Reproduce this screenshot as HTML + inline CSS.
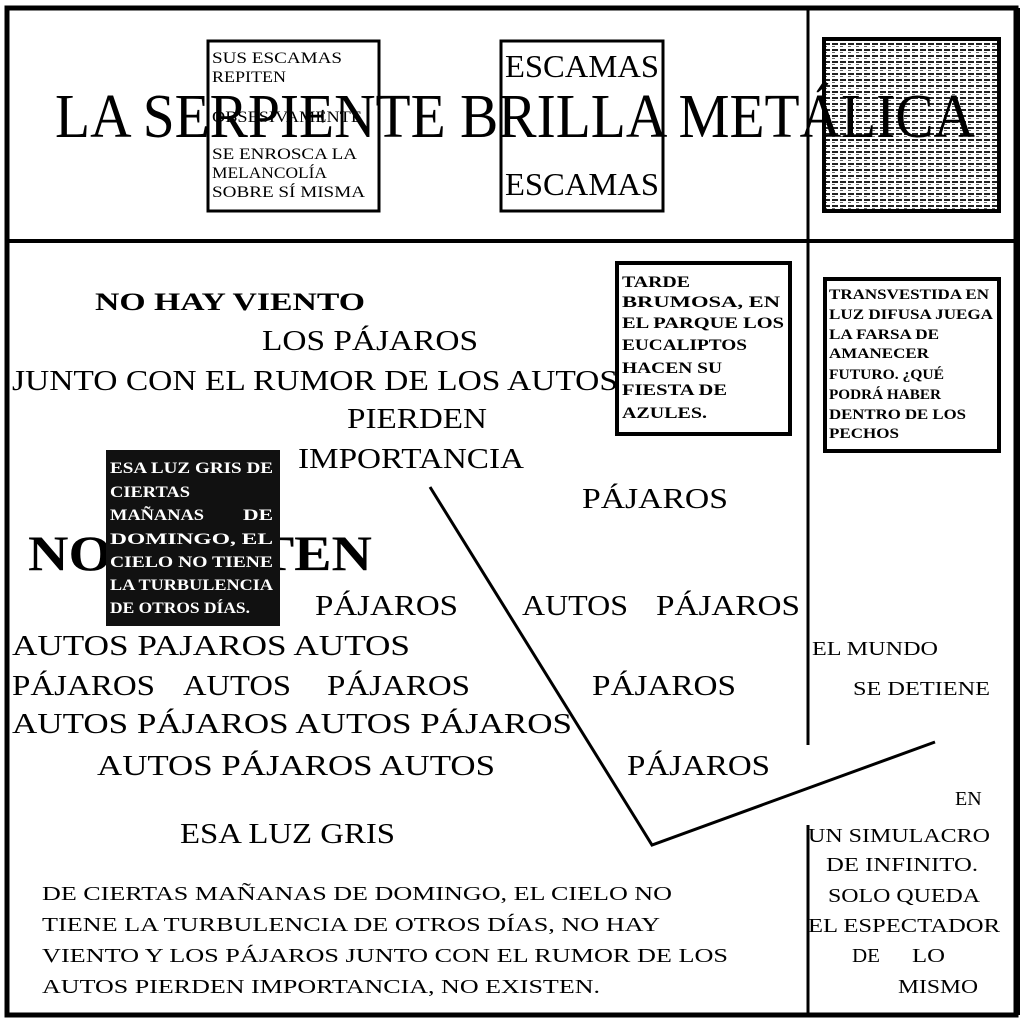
<!DOCTYPE html>
<html><head><meta charset="utf-8"><style>
html,body{margin:0;padding:0;background:#fff;}
svg{display:block;}
text{font-family:"Liberation Serif",serif;fill:#000;}
.b{font-weight:bold;}
</style></head><body>
<svg width="1024" height="1024" viewBox="0 0 1024 1024" xmlns="http://www.w3.org/2000/svg">
<defs>
<pattern id="noise" width="8" height="6" patternUnits="userSpaceOnUse">
<rect width="8" height="6" fill="#fff"/>
<rect x="0" y="1" width="6" height="2" fill="#222"/>
<rect x="0" y="4" width="3" height="1" fill="#666"/>
</pattern>
</defs>
<rect x="7" y="8" width="1009" height="1007" fill="none" stroke="#000" stroke-width="5"/>
<line x1="5" y1="241" x2="1018" y2="241" stroke="#000" stroke-width="4"/>
<line x1="808" y1="8" x2="808" y2="745" stroke="#000" stroke-width="3"/>
<line x1="808" y1="825" x2="808" y2="1015" stroke="#000" stroke-width="3"/>
<line x1="1017" y1="8" x2="1017" y2="1015" stroke="#000" stroke-width="6"/>

<rect x="208" y="41" width="171" height="170" fill="#fff" stroke="#000" stroke-width="3"/>
<g font-size="16">
<text x="212" y="63" textLength="130" lengthAdjust="spacingAndGlyphs">SUS ESCAMAS</text>
<text x="212" y="82" textLength="74" lengthAdjust="spacingAndGlyphs">REPITEN</text>
<text x="212" y="122" textLength="150" lengthAdjust="spacingAndGlyphs">OBSESIVAMENTE</text>
<text x="212" y="159" textLength="145" lengthAdjust="spacingAndGlyphs">SE ENROSCA LA</text>
<text x="212" y="178" textLength="115" lengthAdjust="spacingAndGlyphs">MELANCOLÍA</text>
<text x="212" y="197" textLength="153" lengthAdjust="spacingAndGlyphs">SOBRE SÍ MISMA</text>
</g>
<rect x="501" y="41" width="162" height="170" fill="#fff" stroke="#000" stroke-width="3"/>
<text x="505" y="77" font-size="32" textLength="154" lengthAdjust="spacingAndGlyphs">ESCAMAS</text>
<text x="505" y="195" font-size="32" textLength="154" lengthAdjust="spacingAndGlyphs">ESCAMAS</text>
<rect x="824" y="39" width="175" height="172" fill="url(#noise)" stroke="#000" stroke-width="4"/>

<text x="55" y="137" font-size="62" textLength="920" lengthAdjust="spacingAndGlyphs">LA SERPIENTE BRILLA METÁLICA</text>

<rect x="617" y="263" width="173" height="171" fill="#fff" stroke="#000" stroke-width="4"/>
<g font-size="16">
<text x="622" y="287" class="b" textLength="68" lengthAdjust="spacingAndGlyphs">TARDE</text>
<text x="622" y="307" class="b" textLength="158" lengthAdjust="spacingAndGlyphs">BRUMOSA, EN</text>
<text x="622" y="328" class="b" textLength="162" lengthAdjust="spacingAndGlyphs">EL PARQUE LOS</text>
<text x="622" y="350" class="b" textLength="125" lengthAdjust="spacingAndGlyphs">EUCALIPTOS</text>
<text x="622" y="373" class="b" textLength="100" lengthAdjust="spacingAndGlyphs">HACEN SU</text>
<text x="622" y="395" class="b" textLength="105" lengthAdjust="spacingAndGlyphs">FIESTA DE</text>
<text x="622" y="418" class="b" textLength="85" lengthAdjust="spacingAndGlyphs">AZULES.</text>
</g>
<rect x="825" y="279" width="174" height="172" fill="#fff" stroke="#000" stroke-width="4"/>
<g font-size="15">
<text x="829" y="299" class="b" textLength="160" lengthAdjust="spacingAndGlyphs">TRANSVESTIDA EN</text>
<text x="829" y="319" class="b" textLength="164" lengthAdjust="spacingAndGlyphs">LUZ DIFUSA JUEGA</text>
<text x="829" y="339" class="b" textLength="110" lengthAdjust="spacingAndGlyphs">LA FARSA DE</text>
<text x="829" y="358" class="b" textLength="100" lengthAdjust="spacingAndGlyphs">AMANECER</text>
<text x="829" y="379" class="b" textLength="115" lengthAdjust="spacingAndGlyphs">FUTURO. ¿QUÉ</text>
<text x="829" y="399" class="b" textLength="112" lengthAdjust="spacingAndGlyphs">PODRÁ HABER</text>
<text x="829" y="419" class="b" textLength="137" lengthAdjust="spacingAndGlyphs">DENTRO DE LOS</text>
<text x="829" y="438" class="b" textLength="70" lengthAdjust="spacingAndGlyphs">PECHOS</text>
</g>

<text x="95" y="310" font-size="25" class="b" textLength="270" lengthAdjust="spacingAndGlyphs">NO HAY VIENTO</text>
<text x="262" y="350" font-size="28" textLength="216" lengthAdjust="spacingAndGlyphs">LOS PÁJAROS</text>
<text x="12" y="390" font-size="28" textLength="606" lengthAdjust="spacingAndGlyphs">JUNTO CON EL RUMOR DE LOS AUTOS</text>
<text x="347" y="428" font-size="28" textLength="140" lengthAdjust="spacingAndGlyphs">PIERDEN</text>
<text x="298" y="468" font-size="28" textLength="226" lengthAdjust="spacingAndGlyphs">IMPORTANCIA</text>
<text x="582" y="508" font-size="28" textLength="146" lengthAdjust="spacingAndGlyphs">PÁJAROS</text>

<text x="28" y="570" font-size="50" class="b" textLength="344" lengthAdjust="spacingAndGlyphs">NO EXISTEN</text>
<rect x="106" y="450" width="174" height="176" fill="#111"/>
<g font-size="16">
<text x="110" y="473" class="b" style="fill:#fff" textLength="163" lengthAdjust="spacingAndGlyphs">ESA LUZ GRIS DE</text>
<text x="110" y="497" class="b" style="fill:#fff" textLength="80" lengthAdjust="spacingAndGlyphs">CIERTAS</text>
<text x="110" y="520" class="b" style="fill:#fff" textLength="94" lengthAdjust="spacingAndGlyphs">MAÑANAS</text>
<text x="243" y="520" class="b" style="fill:#fff" textLength="30" lengthAdjust="spacingAndGlyphs">DE</text>
<text x="110" y="544" class="b" style="fill:#fff" textLength="163" lengthAdjust="spacingAndGlyphs">DOMINGO, EL</text>
<text x="110" y="567" class="b" style="fill:#fff" textLength="163" lengthAdjust="spacingAndGlyphs">CIELO NO TIENE</text>
<text x="110" y="590" class="b" style="fill:#fff" textLength="163" lengthAdjust="spacingAndGlyphs">LA TURBULENCIA</text>
<text x="110" y="613" class="b" style="fill:#fff" textLength="140" lengthAdjust="spacingAndGlyphs">DE OTROS DÍAS.</text>
</g>

<g font-size="28">
<text x="315" y="615" textLength="143" lengthAdjust="spacingAndGlyphs">PÁJAROS</text>
<text x="522" y="615" textLength="106" lengthAdjust="spacingAndGlyphs">AUTOS</text>
<text x="656" y="615" textLength="144" lengthAdjust="spacingAndGlyphs">PÁJAROS</text>
<text x="12" y="655" textLength="398" lengthAdjust="spacingAndGlyphs">AUTOS PAJAROS AUTOS</text>
<text x="12" y="695" textLength="143" lengthAdjust="spacingAndGlyphs">PÁJAROS</text>
<text x="183" y="695" textLength="108" lengthAdjust="spacingAndGlyphs">AUTOS</text>
<text x="327" y="695" textLength="143" lengthAdjust="spacingAndGlyphs">PÁJAROS</text>
<text x="592" y="695" textLength="144" lengthAdjust="spacingAndGlyphs">PÁJAROS</text>
<text x="12" y="733" textLength="560" lengthAdjust="spacingAndGlyphs">AUTOS PÁJAROS AUTOS PÁJAROS</text>
<text x="97" y="775" textLength="398" lengthAdjust="spacingAndGlyphs">AUTOS PÁJAROS AUTOS</text>
<text x="627" y="775" textLength="143" lengthAdjust="spacingAndGlyphs">PÁJAROS</text>
</g>
<text x="812" y="655" font-size="20" textLength="126" lengthAdjust="spacingAndGlyphs">EL MUNDO</text>
<text x="853" y="695" font-size="20" textLength="137" lengthAdjust="spacingAndGlyphs">SE DETIENE</text>

<polyline points="430,487 652,845 935,742" fill="none" stroke="#000" stroke-width="3"/>

<text x="955" y="805" font-size="20">EN</text>
<text x="180" y="843" font-size="28" textLength="215" lengthAdjust="spacingAndGlyphs">ESA LUZ GRIS</text>

<g font-size="20">
<text x="808" y="842" textLength="182" lengthAdjust="spacingAndGlyphs">UN SIMULACRO</text>
<text x="826" y="871" textLength="152" lengthAdjust="spacingAndGlyphs">DE INFINITO.</text>
<text x="828" y="902" textLength="152" lengthAdjust="spacingAndGlyphs">SOLO QUEDA</text>
<text x="808" y="932" textLength="192" lengthAdjust="spacingAndGlyphs">EL ESPECTADOR</text>
<text x="852" y="962" textLength="28" lengthAdjust="spacingAndGlyphs">DE</text>
<text x="912" y="962" textLength="33" lengthAdjust="spacingAndGlyphs">LO</text>
<text x="898" y="993" textLength="80" lengthAdjust="spacingAndGlyphs">MISMO</text>
</g>

<g font-size="20">
<text x="42" y="900" textLength="630" lengthAdjust="spacingAndGlyphs">DE CIERTAS MAÑANAS DE DOMINGO, EL CIELO NO</text>
<text x="42" y="931" textLength="618" lengthAdjust="spacingAndGlyphs">TIENE LA TURBULENCIA DE OTROS DÍAS, NO HAY</text>
<text x="42" y="962" textLength="686" lengthAdjust="spacingAndGlyphs">VIENTO Y LOS PÁJAROS JUNTO CON EL RUMOR DE LOS</text>
<text x="42" y="993" textLength="558" lengthAdjust="spacingAndGlyphs">AUTOS PIERDEN IMPORTANCIA, NO EXISTEN.</text>
</g>
</svg>
</body></html>
